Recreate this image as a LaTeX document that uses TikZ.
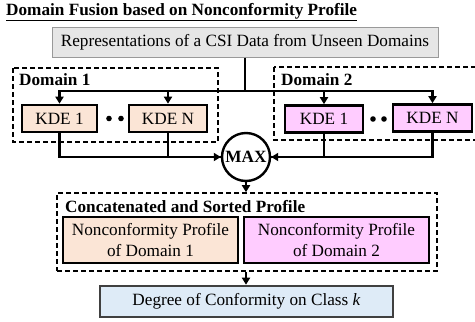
\documentclass[tikz,border=0pt]{standalone}
\usepackage{fontspec}
\setmainfont{Liberation Serif}
\usetikzlibrary{arrows.meta}
\definecolor{peach}{HTML}{FBE5D6}
\definecolor{pinkk}{HTML}{FFCCFF}
\definecolor{lblue}{HTML}{DEEBF7}
\definecolor{lgray}{HTML}{E6E6E6}
\begin{document}
\begin{tikzpicture}[x=1pt,y=-1pt,
  txt/.style={font=\fontsize{17.2}{21}\selectfont},
  lbl/.style={font=\fontsize{17.2}{20}\selectfont\bfseries},
  kbox/.style={draw=black,line width=2.6pt,inner sep=0pt,txt,minimum height=27pt},
  dbox/.style={draw=black,line width=1.6pt,dash pattern=on 5pt off 3pt},
  conn/.style={line width=2.4pt},
  arr/.style={conn,-{Triangle[length=7pt,width=8pt]}}]
\useasboundingbox (0,0) rectangle (475,322);
\begin{scope}
\clip (0,0) rectangle (475,322);
% title
\node[lbl,anchor=base west,inner sep=0pt] (title) at (6,15) {\underline{Domain Fusion based on Nonconformity Profile}};
% top box
\node[draw=gray!80,line width=1pt,fill=lgray,txt,minimum width=386pt,minimum height=30pt,inner sep=0pt] (top) at (245,42) {Representations of a CSI Data from Unseen Domains};
% domain boxes
\draw[dbox] (13,68) rectangle (218,142);
\draw[dbox] (274,67) rectangle (490,140);
\node[lbl,anchor=base west,inner sep=0pt] (d1) at (19,85) {Domain 1};
\node[lbl,anchor=base west,inner sep=0pt] (d2) at (281,85) {Domain 2};
% KDE
\node[kbox,fill=peach,minimum width=75pt] (k11) at (59.5,118.5) {KDE 1};
\node[kbox,fill=peach,minimum width=78pt] (k1N) at (168,118.5) {KDE N};
\node[kbox,fill=pinkk,minimum width=78pt] (k21) at (324,119) {KDE 1};
\node[kbox,fill=pinkk,minimum width=79pt] (k2N) at (432.5,118) {KDE N};
\fill (109,118.5) circle (2.8pt) (121,118.5) circle (2.8pt);
\fill (373,119) circle (2.8pt) (384,119) circle (2.8pt);
% junction
\coordinate (j) at (245,91);
\draw[conn] (top.south) -- (j);
\draw[arr] (j) -| (k11.north);
\draw[arr] (j) -| (k1N.north);
\draw[arr] (j) -| (k21.north);
\draw[arr] (j) -| (k2N.north);
% MAX
\node[draw,circle,line width=2.4pt,minimum size=48pt,inner sep=0pt,lbl] (max) at (246,157) {MAX};
\draw[conn] (k11.south) |- (max.west);
\draw[arr] (k1N.south) |- (max.west);
\draw[conn] (k2N.south) |- (max.east);
\draw[arr] (k21.south) |- (max.east);
% concatenated
\node[dbox,minimum width=380pt,minimum height=78pt,inner sep=0pt] (conc) at (247,232) {};
\node[lbl,anchor=base west,inner sep=0pt] (clbl) at (65,212) {Concatenated and Sorted Profile};
\node[kbox,fill=peach,minimum width=175pt,minimum height=46pt,align=center,font=\fontsize{17.2}{21}\selectfont] (np1) at (150.5,240) {Nonconformity Profile\\of Domain 1};
\node[kbox,fill=pinkk,minimum width=185pt,minimum height=46pt,align=center,font=\fontsize{17.2}{21}\selectfont] (np2) at (336.5,240) {Nonconformity Profile\\of Domain 2};
\draw[arr] (max.south) -- (max.south |- conc.north);
% degree
\node[draw=black!75,line width=2.6pt,fill=lblue,txt,minimum width=293pt,minimum height=31pt,inner sep=0pt] (deg) at (246.5,301.5) {Degree of Conformity on Class \textit{k}};
\draw[arr] (max.south |- conc.south) -- (max.south |- deg.north);
\end{scope}
\end{tikzpicture}
\end{document}
